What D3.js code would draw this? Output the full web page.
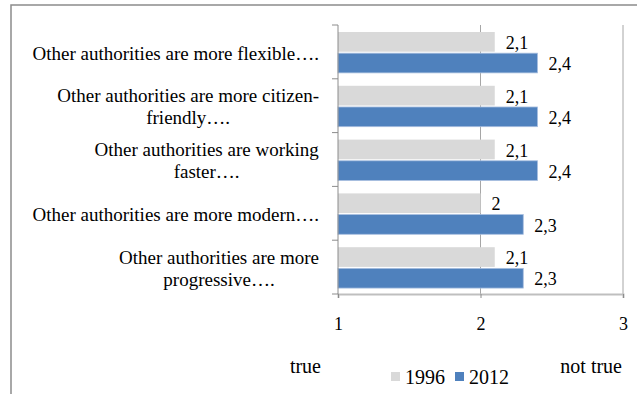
<!DOCTYPE html>
<html>
<head>
<meta charset="utf-8">
<script src="https://cdn.jsdelivr.net/npm/d3@7"></script>
<style>
  body { margin: 0; background: #fff; }
</style>
</head>
<body>
<div id="chart"></div>
<script>
// chart data
const categories = [
  ['Other authorities are more flexible….'],
  ['Other authorities are more citizen-', 'friendly….'],
  ['Other authorities are working', 'faster….'],
  ['Other authorities are more modern….'],
  ['Other authorities are more', 'progressive….']
];
const seriesNames = ['1996', '2012'];
const values1996 = [2.1, 2.1, 2.1, 2.0, 2.1];
const values2012 = [2.4, 2.4, 2.4, 2.3, 2.3];
const xTicks = [1, 2, 3];
const colors = ['#d9d9d9', '#4f81bd'];

const FONT = '"Liberation Serif", "Times New Roman", serif';
const width = 637, height = 394;
const margin = {top: 25, left: 338, right: 14, bottom: 100};

const svg = d3.select('#chart').append('svg')
  .attr('width', width)
  .attr('height', height);

// outer frame (cut off at right and bottom like the source)
svg.append('rect')
  .attr('x', 11).attr('y', 5)
  .attr('width', 700).attr('height', 500)
  .attr('fill', 'none')
  .attr('stroke', '#8c8c8c')
  .attr('stroke-width', 1.5);

const plotW = width - margin.left - margin.right;
const plotH = height - margin.top - margin.bottom;

const x = d3.scaleLinear().domain([1, 3]).range([0, plotW]);
const y = d3.scaleBand().domain(d3.range(categories.length)).range([0, plotH]);
const ySub = d3.scaleBand().domain(seriesNames)
  .range([y.bandwidth() * 0.13, y.bandwidth() * 0.89])
  .paddingInner(0.07);

const chart = svg.append('g')
  .attr('transform', 'translate(' + margin.left + ',' + margin.top + ')');

// vertical gridlines
chart.selectAll('line.grid')
  .data(xTicks.slice(1)).enter()
  .append('line')
  .attr('class', 'grid')
  .attr('x1', d => x(d)).attr('x2', d => x(d))
  .attr('y1', 0).attr('y2', plotH)
  .attr('stroke', '#a6a6a6')
  .attr('stroke-width', 1);

// bars
const rows = chart.selectAll('.row')
  .data(categories.map((c, i) => ({i: i, vals: [values1996[i], values2012[i]]})))
  .enter().append('g')
  .attr('class', 'row')
  .attr('transform', d => 'translate(0,' + y(d.i) + ')');

const fmt = v => (Number.isInteger(v) ? String(v) : v.toFixed(1).replace('.', ','));

seriesNames.forEach((s, si) => {
  rows.append('rect')
    .attr('x', 0)
    .attr('y', ySub(s))
    .attr('width', d => x(d.vals[si]))
    .attr('height', ySub.bandwidth())
    .attr('fill', colors[si])
    .attr('stroke', si === 1 ? '#a7bedf' : 'none')
    .attr('stroke-width', 0.8);

  rows.append('text')
    .attr('x', d => x(d.vals[si]) + 11)
    .attr('y', ySub(s) + ySub.bandwidth() / 2)
    .attr('dy', '0.4em')
    .style('font-family', FONT)
    .style('font-size', '18px')
    .text(d => fmt(d.vals[si]));
});

// x axis
const axisX = chart.append('g')
  .attr('transform', 'translate(0,' + plotH + ')')
  .call(d3.axisBottom(x).tickValues(xTicks).tickSize(4).tickPadding(19).tickFormat(d3.format('d')));
axisX.select('path').attr('stroke', '#bfbfbf').attr('stroke-width', 2);
axisX.selectAll('line').attr('stroke', '#8c8c8c');
axisX.selectAll('text')
  .style('font-family', FONT)
  .style('font-size', '18px')
  .attr('fill', '#000');

// y axis
const axisY = chart.append('g')
  .call(d3.axisLeft(y).tickSize(0).tickFormat(''));
axisY.select('path').attr('stroke', '#8c8c8c').attr('d', 'M0,0V' + plotH);
chart.selectAll('line.ytick')
  .data(d3.range(categories.length + 1)).enter()
  .append('line')
  .attr('class', 'ytick')
  .attr('x1', -6).attr('x2', 0)
  .attr('y1', d => d * y.step()).attr('y2', d => d * y.step())
  .attr('stroke', '#8c8c8c');

// category labels: lines centred, block right aligned
const labelRight = -19;
const lineH = 22;
categories.forEach((lines, i) => {
  const t = chart.append('text')
    .style('font-family', FONT)
    .style('font-size', '19px')
    .attr('text-anchor', 'middle');
  const cy = y(i) + y.bandwidth() / 2;
  lines.forEach((ln, li) => {
    t.append('tspan')
      .attr('x', 0)
      .attr('y', cy + (li - (lines.length - 1) / 2) * lineH)
      .attr('dy', '0.4em')
      .text(ln);
  });
  const w = t.node().getBBox().width;
  t.selectAll('tspan').attr('x', labelRight - w / 2);
});

// bottom annotations and legend
svg.append('text').attr('x', 321).attr('y', 373).attr('text-anchor', 'end')
  .style('font-family', FONT).style('font-size', '20px').text('true');
svg.append('text').attr('x', 622).attr('y', 373).attr('text-anchor', 'end')
  .style('font-family', FONT).style('font-size', '20px').text('not true');

const legend = svg.append('g').attr('transform', 'translate(391,384)');
let lx = 0;
seriesNames.forEach((s, si) => {
  legend.append('rect')
    .attr('x', lx).attr('y', -12)
    .attr('width', 9).attr('height', 9)
    .attr('fill', colors[si]);
  const t = legend.append('text')
    .attr('x', lx + 14).attr('y', 0)
    .style('font-family', FONT)
    .style('font-size', '20px')
    .text(s);
  lx += 14 + t.node().getComputedTextLength() + 10;
});
</script>
</body>
</html>
